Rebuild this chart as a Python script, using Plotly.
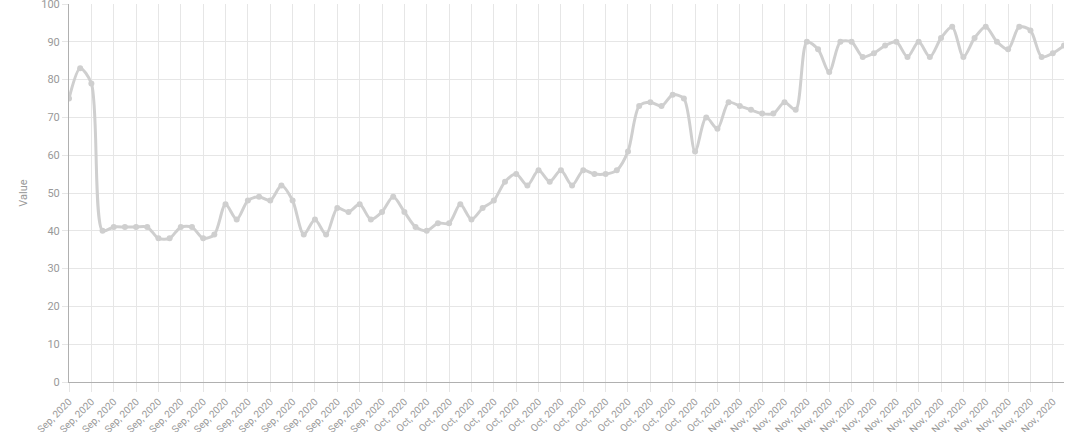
import pandas as pd
import plotly.graph_objects as go

start_date = "2020-09-02"
values = [
    75, 83, 79, 40, 41, 41, 41, 41, 38, 38,
    41, 41, 38, 39, 47, 43, 48, 49, 48, 52,
    48, 39, 43, 39, 46, 45, 47, 43, 45, 49,
    45, 41, 40, 42, 42, 47, 43, 46, 48, 53,
    55, 52, 56, 53, 56, 52, 56, 55, 55, 56,
    61, 73, 74, 73, 76, 75, 61, 70, 67, 74,
    73, 72, 71, 71, 74, 72, 90, 88, 82, 90,
    90, 86, 87, 89, 90, 86, 90, 86, 91, 94,
    86, 91, 94, 90, 88, 94, 93, 86, 87, 89,
]
dates = pd.date_range(start_date, periods=len(values), freq="D")
tick_dates = dates[::2]
tick_labels = [d.strftime("%b, %Y") for d in tick_dates]
y_ticks = [0, 10, 20, 30, 40, 50, 60, 70, 80, 90, 100]
y_title = "Value"

line_color = "#cfcfcf"
grid_color = "#e6e6e6"
axis_color = "#b0b0b0"
text_color = "#999999"

fig = go.Figure(
    go.Scatter(
        x=dates,
        y=values,
        mode="lines+markers",
        line=dict(color=line_color, width=3, shape="spline", smoothing=0.8),
        marker=dict(color=line_color, size=6),
        hoverinfo="x+y",
    )
)

fig.update_layout(
    width=1080,
    height=432,
    margin=dict(l=69, r=16, t=4, b=50),
    paper_bgcolor="white",
    plot_bgcolor="white",
    showlegend=False,
    font=dict(family="Roboto, Arial, sans-serif", size=11, color=text_color),
)

fig.update_xaxes(
    type="date",
    range=[dates[0], dates[-1]],
    tickmode="array",
    tickvals=tick_dates,
    ticktext=tick_labels,
    tickangle=-45,
    tickfont=dict(size=10, color=text_color),
    showgrid=True,
    gridcolor=grid_color,
    gridwidth=1,
    showline=True,
    linecolor=axis_color,
    linewidth=1,
    ticks="outside",
    ticklen=9,
    tickcolor=grid_color,
    zeroline=False,
    automargin=False,
    ticklabeloverflow="allow",
)

fig.update_yaxes(
    range=[0, 100.001],
    tickmode="array",
    tickvals=y_ticks,
    tickfont=dict(size=11, color=text_color),
    showgrid=True,
    gridcolor=grid_color,
    gridwidth=1,
    showline=True,
    linecolor=axis_color,
    linewidth=1,
    ticks="outside",
    ticklen=6,
    tickcolor=grid_color,
    zeroline=False,
    automargin=False,
    ticklabeloverflow="allow",
    title=dict(text=y_title, font=dict(size=11, color=text_color), standoff=11),
)

fig.write_html(
    "out.html",
    config={"displayModeBar": False},
    post_script="document.body.style.margin='0';document.body.style.padding='0';document.body.style.overflow='hidden';",
)
